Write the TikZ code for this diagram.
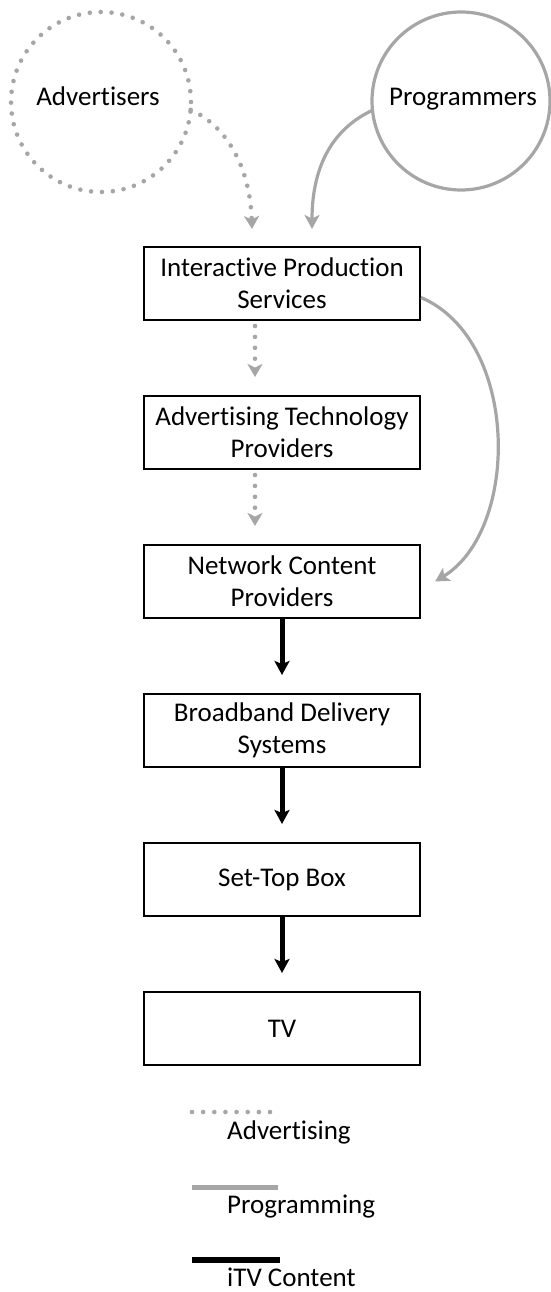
\documentclass[tikz,border=0pt]{standalone}
\usepackage{fontspec}
\setmainfont{Carlito}[Ligatures=NoCommon]
\usetikzlibrary{arrows.meta}
\definecolor{lgray}{RGB}{166,166,166}
\begin{document}
\begin{tikzpicture}[x=1pt,y=-1pt,
  txt/.style={font=\fontsize{27pt}{32pt}\selectfont, inner sep=0pt},
  box/.style={draw=black, line width=2.3pt, minimum width=275.7pt, minimum height=72.7pt,
    align=center, font=\fontsize{27pt}{32pt}\selectfont, inner sep=0pt},
  advline/.style={draw=lgray, line width=4.6pt, line cap=round, dash pattern=on 0pt off 10.9pt,
    -{Stealth[length=13pt,width=15pt,inset=3.5pt,line cap=butt,line join=miter]}},
  progline/.style={draw=lgray, line width=3.2pt,
    -{Stealth[length=14pt,width=15pt,inset=3.5pt]}},
  content/.style={draw=black, line width=5pt,
    -{Stealth[length=14pt,width=15pt,inset=3pt]}}
]
\useasboundingbox (0,0) rectangle (551,1292);

% circles
\node[circle, draw=lgray, line width=4.6pt, line cap=round, dash pattern=on 0pt off 10.9pt,
  minimum size=180pt, inner sep=0pt, outer sep=0pt] (adv) at (101,102) {};
\node[txt, anchor=base] (advt) at (98,106) {Advertisers};
\node[circle, draw=lgray, line width=3.2pt, minimum size=178pt, inner sep=0pt, outer sep=0pt]
  (prog) at (461,101) {};
\node[txt, anchor=base] (progt) at (463,106) {Programmers};

% boxes
\node[box] (b1) at (282,283.5) {Interactive Production\\Services};
\node[box] (b2) at (282,432.5) {Advertising Technology\\Providers};
\node[box] (b3) at (282,581.5) {Network Content\\Providers};
\node[box] (b4) at (282,730.5) {Broadband Delivery\\Systems};
\node[box] (b5) at (282,879.5) {Set-Top Box};
\node[box] (b6) at (282,1028.5) {TV};

% top arrows
\draw[advline] (adv.-5) .. controls (225,125) and (250,165) .. ([xshift=-30pt,yshift=17pt]b1.north);
\draw[progline] (prog.186) .. controls (330,130) and (312,170) .. ([xshift=30pt,yshift=17pt]b1.north);

% advertising chain
\draw[advline, shorten <=5pt, shorten >=18pt] ([xshift=-27pt]b1.south) -- ([xshift=-27pt]b2.north);
\draw[advline, shorten <=5pt, shorten >=18pt] ([xshift=-27pt]b2.south) -- ([xshift=-27pt]b3.north);

% programming curve
\draw[progline] ([yshift=-14pt]b1.east) .. controls (520,340) and (520,530) .. ([xshift=14pt]b3.east);

% content chain
\draw[content, shorten >=18pt] (b3) -- (b4);
\draw[content, shorten >=18pt] (b4) -- (b5);
\draw[content, shorten >=18pt] (b5) -- (b6);

% legend
\draw[draw=lgray, line width=4.6pt, line cap=round, dash pattern=on 0pt off 11.14pt] (192,1112) -- (270,1112);
\node[txt, anchor=base west] (l1) at (227,1139) {Advertising};
\draw[draw=lgray, line width=5pt] (192,1187) -- (278,1187);
\node[txt, anchor=base west] (l2) at (227,1213) {Programming};
\draw[draw=black, line width=6pt] (192,1260) -- (280,1260);
\node[txt, anchor=base west] (l3) at (227,1286) {iTV Content};
\end{tikzpicture}
\end{document}
